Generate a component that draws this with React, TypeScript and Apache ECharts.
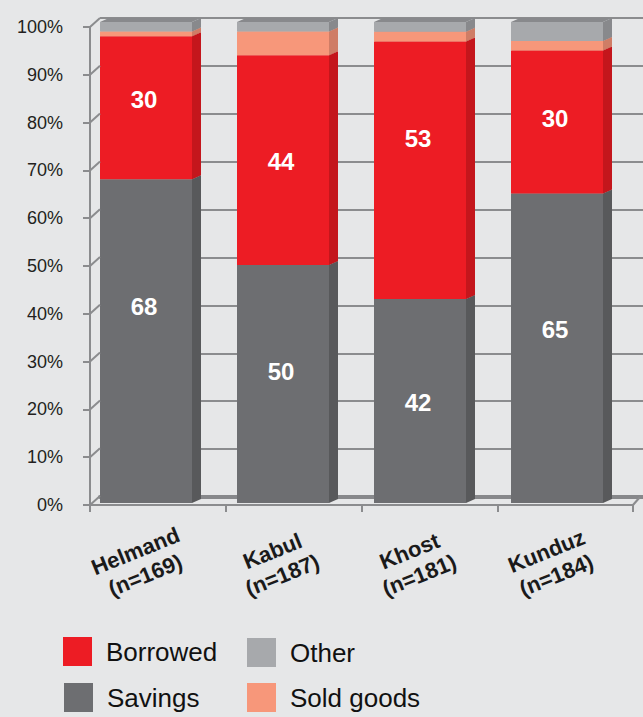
import React, { useEffect, useRef } from 'react';
import * as echarts from 'echarts';

// ---------------- data ----------------
const CATEGORIES = ['Helmand', 'Kabul', 'Khost', 'Kunduz'];
const SAMPLE_N = [169, 187, 181, 184];
const SAVINGS = [68, 50, 42, 65];
const BORROWED = [30, 44, 53, 30];
const SOLD_GOODS = [1, 5, 2, 2];
const OTHER = [2, 2, 2, 4];
const Y_TICKS = [0, 10, 20, 30, 40, 50, 60, 70, 80, 90, 100];
const LEGEND_ORDER = ['Borrowed', 'Other', 'Savings', 'Sold goods'];

// ---------------- layout / style ----------------
const FONT = '"Liberation Sans", Arial, Helvetica, sans-serif';
const BG = '#e6e7e8';
const FRAME = '#8b8c8e';
const BAR_W = 92;
const DX = 9;
const DY = -4;
// vertical nudges of the value labels (px), as in the original artwork
const LABEL_NUDGE: Record<string, number[]> = {
  Savings: [-35, -12, 2, -19],
  Borrowed: [-8, 1, -32, -4],
};
// legend item positions (left, top) in px, 2 x 2 layout
const LEGEND_POS = [
  [63, 632],
  [247, 633],
  [64, 678],
  [247, 678],
];

const SERIES_DEF = [
  { name: 'Savings', values: SAVINGS, color: '#6d6e71', side: '#58595b', top: '#5f6063', label: true },
  { name: 'Borrowed', values: BORROWED, color: '#ed1c24', side: '#c4161c', top: '#c4161c', label: true },
  { name: 'Sold goods', values: SOLD_GOODS, color: '#f7977a', side: '#cf7d66', top: '#cf7d66', label: false },
  { name: 'Other', values: OTHER, color: '#a7a9ac', side: '#88898c', top: '#88898c', label: false },
];

export default function App() {
  const ref = useRef<HTMLDivElement>(null);

  useEffect(() => {
    const chart = echarts.init(ref.current!, null, { renderer: 'svg' });

    const totals = CATEGORIES.map((_, i) =>
      SERIES_DEF.reduce((s, d) => s + d.values[i], 0)
    );
    const cum = CATEGORIES.map(() => 0);

    const barSeries = SERIES_DEF.map((def) => {
      const data = CATEGORIES.map((_, i) => {
        const share = (def.values[i] / totals[i]) * 100;
        const base = cum[i];
        const top = base + share;
        cum[i] = top;
        return [i, base, top, def.values[i]];
      });
      return {
        type: 'custom',
        name: def.name,
        xAxisIndex: 1,
        yAxisIndex: 1,
        silent: true,
        itemStyle: { color: def.color },
        encode: { x: 0, y: 2 },
        data,
        renderItem: (params: any, api: any) => {
          const idx = api.value(0);
          const base = api.value(1);
          const top = api.value(2);
          const raw = api.value(3);
          const p0 = api.coord([idx, base]);
          const p1 = api.coord([idx, top]);
          const xl = p0[0] - BAR_W / 2;
          const xr = xl + BAR_W;
          const yb = p0[1];
          const yt = p1[1];
          const children: any[] = [
            {
              type: 'polygon',
              shape: { points: [[xr, yb], [xr + DX, yb + DY], [xr + DX, yt + DY], [xr, yt]] },
              style: { fill: def.side },
            },
            {
              type: 'polygon',
              shape: { points: [[xl, yt], [xl + DX, yt + DY], [xr + DX, yt + DY], [xr, yt]] },
              style: { fill: def.top },
            },
            {
              type: 'rect',
              shape: { x: xl, y: yt, width: BAR_W, height: yb - yt },
              style: { fill: def.color },
            },
          ];
          if (def.label) {
            const nudge = (LABEL_NUDGE[def.name] || [])[idx] || 0;
            children.push({
              type: 'text',
              style: {
                text: String(raw),
                x: (xl + xr) / 2 - 2,
                y: (yt + yb) / 2 + nudge,
                fill: '#ffffff',
                fontSize: 24,
                fontWeight: 'bold',
                fontFamily: FONT,
                align: 'center',
                verticalAlign: 'middle',
              },
            });
          }
          return { type: 'group', children };
        },
      };
    });

    const legends = LEGEND_ORDER.map((name, i) => ({
      left: LEGEND_POS[i][0],
      top: LEGEND_POS[i][1],
      padding: 0,
      orient: 'horizontal',
      itemWidth: 29,
      itemHeight: 29,
      icon: 'rect',
      selectedMode: false,
      data: [name],
      textStyle: {
        fontSize: 26,
        lineHeight: 29,
        fontFamily: FONT,
        color: '#111111',
        padding: [10, 0, 0, 9],
      },
    }));

    const option: any = {
      animation: false,
      backgroundColor: BG,
      grid: [
        { left: 100, right: 0, top: 18, bottom: 220 }, // back wall
        { left: 77.5, width: 548, top: 22, bottom: 214 }, // bars
        { left: 90, right: 10, top: 27, bottom: 212 }, // front axes
      ],
      xAxis: [
        {
          gridIndex: 0,
          type: 'category',
          data: CATEGORIES,
          position: 'top',
          axisLine: { show: true, lineStyle: { color: '#87888b', width: 4 } },
          axisTick: { show: false },
          axisLabel: { show: false },
          splitLine: { show: false },
        },
        {
          gridIndex: 1,
          type: 'category',
          data: CATEGORIES.map((c, i) => `${c}\n(n=${SAMPLE_N[i]})`),
          axisLine: { show: false },
          axisTick: { show: false },
          axisLabel: {
            interval: 0,
            rotate: 22,
            align: 'center',
            verticalAlign: 'middle',
            margin: 58,
            padding: [0, 12, 0, 0],
            fontSize: 22,
            lineHeight: 26,
            fontWeight: 'bold',
            fontFamily: FONT,
            color: '#1a1a1a',
          },
        },
        {
          gridIndex: 2,
          type: 'category',
          data: CATEGORIES,
          axisLine: { show: true, lineStyle: { color: FRAME, width: 2 } },
          axisTick: { show: true, interval: 0, alignWithLabel: false, length: 7, lineStyle: { color: FRAME, width: 2 } },
          axisLabel: { show: false },
        },
      ],
      yAxis: [
        {
          gridIndex: 0,
          type: 'value',
          min: 0,
          max: 100,
          interval: 10,
          axisLine: { show: false },
          axisTick: { show: false },
          axisLabel: { show: false },
          splitLine: { show: true, lineStyle: { color: FRAME, width: 2 } },
        },
        {
          gridIndex: 1,
          type: 'value',
          min: 0,
          max: 100,
          show: false,
        },
        {
          gridIndex: 2,
          type: 'value',
          min: 0,
          max: 100,
          interval: 10,
          axisLine: { show: true, lineStyle: { color: FRAME, width: 2 } },
          axisTick: { show: true, length: 7, lineStyle: { color: FRAME, width: 2 } },
          splitLine: { show: false },
          axisLabel: {
            formatter: '{value}%',
            margin: 27,
            padding: [0, 0, 9, 0],
            fontSize: 18,
            fontFamily: FONT,
            color: '#231f20',
          },
        },
      ],
      legend: legends,
      series: [
        ...barSeries,
        {
          type: 'custom',
          name: 'frame-diagonals',
          xAxisIndex: 2,
          yAxisIndex: 2,
          silent: true,
          data: Y_TICKS.map((v) => [0, v]),
          renderItem: (params: any, api: any) => {
            const y = api.coord([0, api.value(1)])[1];
            const x = params.coordSys.x;
            return {
              type: 'line',
              shape: { x1: x, y1: y, x2: x + 10, y2: y - 9 },
              style: { stroke: FRAME, lineWidth: 2 },
            };
          },
        },
        {
          type: 'custom',
          name: 'frame-corner',
          xAxisIndex: 2,
          yAxisIndex: 2,
          silent: true,
          data: [[CATEGORIES.length - 1, 0]],
          renderItem: (params: any) => {
            const cs = params.coordSys;
            const x = cs.x + cs.width;
            const y = cs.y + cs.height;
            return {
              type: 'line',
              shape: { x1: x, y1: y, x2: x + 7, y2: y - 8 },
              style: { stroke: FRAME, lineWidth: 2 },
            };
          },
        },
      ],
    };

    chart.setOption(option);
    return () => chart.dispose();
  }, []);

  return (
    <div
      ref={ref}
      style={{ position: 'fixed', left: 0, top: 0, width: 643, height: 717, background: BG }}
    />
  );
}
